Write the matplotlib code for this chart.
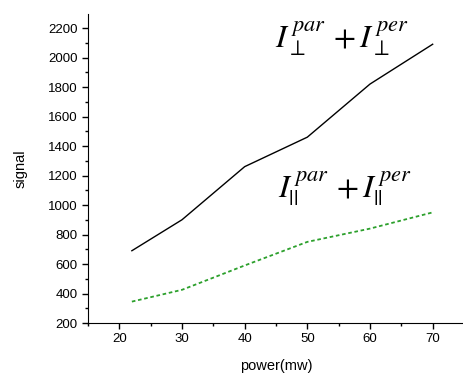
import matplotlib.pyplot as plt
from matplotlib.ticker import MultipleLocator

plt.rcParams['font.family'] = ['Liberation Sans', 'DejaVu Sans']
plt.rcParams['mathtext.fontset'] = 'stix'

power = [22, 30, 40, 50, 60, 70]
perp_sum = [690, 900, 1260, 1460, 1820, 2090]
par_sum = [345, 425, 590, 750, 840, 950]

fig = plt.figure(figsize=(4.64, 3.74), dpi=100)
ax = fig.add_axes([88 / 464, 51 / 374, (464 - 88) / 464, (323 - 14) / 374])

ax.plot(power, perp_sum, color='black', lw=1)
ax.plot(power, par_sum, color='#2ca02c', lw=1.3, ls=(0, (2, 1.5)))

ax.set_xlim(15, 75)
ax.set_ylim(200, 2295)
ax.xaxis.set_major_locator(MultipleLocator(10))
ax.xaxis.set_minor_locator(MultipleLocator(5))
ax.yaxis.set_major_locator(MultipleLocator(200))
ax.yaxis.set_minor_locator(MultipleLocator(100))
ax.spines['top'].set_visible(False)
ax.spines['right'].set_visible(False)
ax.tick_params(labelsize=9.5, length=4, width=1)
ax.tick_params(which='minor', length=2.5, width=1)

ax.set_xlabel('power(mw)', fontsize=10.5, labelpad=10)
ax.set_ylabel('signal', fontsize=10.5, labelpad=15)

ax.text(44.8, 2070, r'$I_{\perp}^{\,par}\,+I_{\perp}^{\,per}$', fontsize=23)
ax.text(45.3, 1047, r'$I_{||}^{\,par}\,+I_{||}^{\,per}$', fontsize=23)

fig.savefig('out.png')
